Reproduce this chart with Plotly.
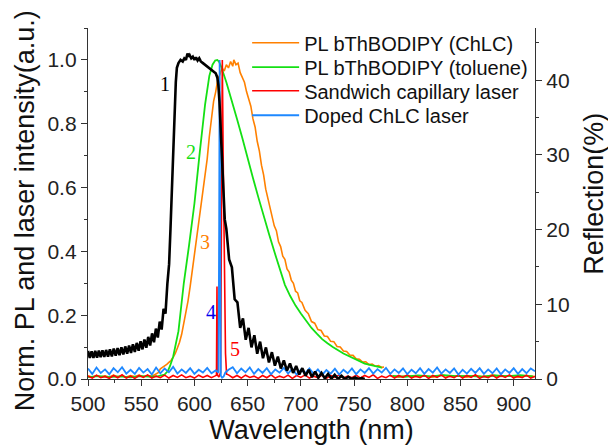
import plotly.graph_objects as go

# ---------------- data ----------------
# Curve 1: reflection spectrum of the ChLC (right axis, %)
refl_wl = [500.0, 501.7, 503.4, 505.1, 506.8, 508.5, 510.2, 511.9, 513.6, 515.3, 517.0, 518.8,
           520.6, 522.4, 524.2, 526.0, 527.8, 529.6, 531.4, 533.2, 535.0, 536.8, 538.6, 540.4,
           542.2, 544.0, 545.8, 547.6, 549.4, 551.2, 553.0, 554.8, 556.6, 558.4, 560.2, 562.0,
           563.8, 565.6, 567.4, 569.2, 571.0, 572.8, 574.6, 576.2, 577.5, 578.5, 579.5, 580.5,
           581.5, 582.5, 583.5, 585.0, 587.0, 589.0, 590.5, 592.0, 593.5, 594.5, 595.5, 597.0,
           598.5, 600.0, 601.5, 603.0, 604.5, 606.0, 608.0, 610.0, 612.0, 614.0, 616.0, 618.0,
           620.0, 621.5, 622.5, 623.5, 624.5, 625.5, 626.5, 627.5, 628.5, 630.0, 632.6, 635.2,
           637.8, 640.4, 643.0, 645.6, 648.2, 650.9, 653.6, 656.3, 659.0, 661.7, 664.4, 667.2,
           670.0, 672.8, 675.6, 678.4, 681.2, 684.0, 686.9, 689.8, 692.7, 695.6, 698.5, 701.4,
           704.4, 707.4, 710.4, 713.4, 716.4, 719.4, 722.5, 725.6, 728.7, 731.8, 735.0, 738.2,
           741.4, 744.6, 747.8, 751.0, 754.0, 757.0, 760.0]
refl_pct = [3.76, 2.82, 3.72, 2.82, 3.76, 2.86, 3.80, 2.91, 3.85, 2.95, 3.89, 2.99,
            3.97, 3.03, 4.06, 3.12, 4.14, 3.20, 4.23, 3.29, 4.36, 3.38, 4.49, 3.50,
            4.66, 3.63, 4.83, 3.80, 5.04, 3.97, 5.30, 4.19, 5.64, 4.49, 6.11, 4.91,
            6.75, 5.55, 7.69, 6.62, 9.40, 8.76, 12.82, 15.38, 20.08, 23.93, 28.20, 32.47,
            36.75, 39.74, 41.66, 42.30, 42.73, 42.52, 42.94, 42.73, 43.58, 43.16, 43.37, 42.94,
            43.16, 42.73, 43.07, 42.64, 42.94, 42.52, 42.30, 42.09, 41.79, 41.66, 41.45, 41.23,
            40.94, 40.38, 39.31, 37.18, 34.18, 29.91, 26.49, 23.50, 21.37, 20.08, 16.02, 14.96,
            10.68, 10.26, 6.84, 8.12, 5.26, 6.84, 4.23, 5.85, 3.38, 5.00, 2.78, 4.23,
            2.22, 3.59, 1.79, 2.99, 1.41, 2.48, 1.11, 2.09, 0.81, 1.75, 0.60, 1.45,
            0.43, 1.24, 0.26, 0.98, 0.17, 0.81, 0.09, 0.68, 0.04, 0.56, 0.00, 0.43,
            0.00, 0.30, 0.00, 0.21, 0.00, 0.13, 0.00]

# Curve 3: PL bThBODIPY in ChLC (normalised)
chlc_wl = [500, 504, 508, 512, 516, 520, 524, 528, 532, 536, 540, 544, 548, 552, 556, 560, 563,
           566, 568, 570, 572, 574, 576, 578, 580, 582, 584, 586, 588, 590, 592, 594, 596, 598,
           600, 602, 604, 606, 608, 610, 612, 614, 616, 618, 620, 622, 624, 626, 628, 630, 632,
           634, 636, 637, 639, 641, 643, 645, 647, 649, 651, 653, 655, 657, 659, 661, 663, 665,
           667, 669, 671, 673, 675, 677, 679, 681, 683, 685, 687, 689, 691, 693, 695, 697, 699,
           701, 704, 707, 710, 713, 716, 719, 722, 725, 728, 731, 734, 737, 740, 743, 746, 749,
           752, 755, 758, 761, 764, 767, 770, 773, 776, 778,
           779, 784, 792, 800, 808, 816, 824, 832, 840, 848, 856, 864, 872, 880, 888, 896, 904, 912, 920]
chlc_val = [0.010, 0.006, 0.011, 0.007, 0.010, 0.006, 0.012, 0.007, 0.010, 0.006, 0.011, 0.008,
            0.012, 0.007, 0.011, 0.009, 0.014, 0.020, 0.032, 0.036, 0.042, 0.046, 0.052, 0.058,
            0.068, 0.080, 0.097, 0.115, 0.140, 0.172, 0.205, 0.245, 0.290, 0.340, 0.385, 0.440,
            0.480, 0.535, 0.575, 0.640, 0.690, 0.760, 0.810, 0.870, 0.900, 0.940, 0.955, 0.975,
            0.965, 0.985, 0.975, 0.995, 0.980, 1.000, 0.985, 0.990, 0.960, 0.945, 0.930, 0.900,
            0.875, 0.855, 0.815, 0.790, 0.745, 0.715, 0.670, 0.640, 0.595, 0.565, 0.535, 0.515,
            0.480, 0.465, 0.430, 0.415, 0.385, 0.375, 0.345, 0.335, 0.310, 0.300, 0.275, 0.270,
            0.245, 0.240, 0.215, 0.205, 0.180, 0.175, 0.155, 0.152, 0.135, 0.133, 0.118, 0.117,
            0.102, 0.100, 0.088, 0.086, 0.075, 0.074, 0.063, 0.062, 0.053, 0.054, 0.045, 0.047,
            0.040, 0.042, 0.036, 0.038,
            None, 0.009, 0.006, 0.011, 0.007, 0.010, 0.006, 0.012, 0.008, 0.010, 0.006, 0.011,
            0.007, 0.012, 0.008, 0.010, 0.006, 0.011, 0.008]

# Curve 2: PL bThBODIPY in toluene (normalised)
tol_wl = [500, 510, 520, 530, 540, 550, 560, 566, 572, 575, 577, 580, 585, 590, 595, 600, 605,
          610, 614, 617, 619.5, 621.5, 623, 625, 630, 635, 640, 645, 650, 655, 660, 665, 670,
          675, 680, 685, 690, 695, 700, 705, 710, 715, 720, 725, 730, 740, 750, 760, 770, 776,
          777, 786, 798, 810, 822, 834, 846, 858, 870, 882, 894, 906, 918]
tol_val = [0.006, 0.009, 0.006, 0.008, 0.005, 0.009, 0.007, 0.009, 0.014, 0.025, 0.040, 0.070,
           0.150, 0.300, 0.420, 0.550, 0.710, 0.860, 0.950, 0.985, 0.998, 1.000, 0.995, 0.980,
           0.930, 0.875, 0.815, 0.755, 0.690, 0.630, 0.570, 0.510, 0.455, 0.400, 0.345, 0.295,
           0.260, 0.230, 0.205, 0.182, 0.160, 0.142, 0.125, 0.112, 0.100, 0.080, 0.063, 0.048,
           0.040, 0.036,
           None, 0.010, 0.007, 0.011, 0.008, 0.012, 0.009, 0.010, 0.007, 0.011, 0.009, 0.012, 0.008]

# Curve 5: sandwich capillary laser
sand_wl = [500, 504, 508, 512, 516, 520, 524, 528, 532, 536, 540, 544, 548, 552, 556, 560, 564,
           568, 572, 576, 580, 584, 588, 592, 596, 600, 604, 608, 612, 616, 619,
           620.7, 621.2, 621.7, 623.0, 624.6, 625.4, 626.2, 627.0, 628.0, 629.2, 630.2,
           632, 636, 640, 644, 648, 652, 656, 660, 664, 668, 672, 676, 680, 684, 688, 692, 696,
           700, 704, 708, 712, 716, 720, 724, 728, 732, 736, 740, 744, 748, 752, 756, 760, 764,
           768, 772, 776, 780, 784, 788, 792, 796, 800, 804, 808, 812, 816, 820, 824, 828, 832,
           836, 840, 844, 848, 852, 856, 860, 864, 868, 872, 876, 880, 884, 888, 892, 896, 900,
           904, 908, 912, 916, 920]
sand_val = [0.009, 0.003, 0.012, 0.004, 0.008, 0.002, 0.011, 0.004, 0.013, 0.003, 0.009, 0.002,
            0.011, 0.005, 0.013, 0.003, 0.009, 0.004, 0.012, 0.003, 0.011, 0.005, 0.013, 0.004,
            0.009, 0.003, 0.012, 0.005, 0.011, 0.004, 0.009,
            0.012, 0.290, 0.012, 0.006, 0.020, 0.500, 1.000, 0.700, 0.350, 0.080, 0.015,
            0.013, 0.004, 0.011, 0.003, 0.012, 0.005, 0.009, 0.002, 0.011, 0.004, 0.013, 0.003,
            0.009, 0.004, 0.012, 0.002, 0.011, 0.005, 0.013, 0.003, 0.009, 0.004, 0.012, 0.002,
            0.011, 0.005, 0.013, 0.003, 0.009, 0.004, 0.012, 0.003, 0.011, 0.005, 0.013, 0.002,
            0.009, 0.004, 0.012, 0.003, 0.011, 0.005, 0.013, 0.003, 0.009, 0.004, 0.012, 0.002,
            0.011, 0.005, 0.013, 0.003, 0.009, 0.004, 0.012, 0.003, 0.011, 0.005, 0.013, 0.002,
            0.009, 0.004, 0.012, 0.003, 0.011, 0.005, 0.013, 0.003, 0.009, 0.004, 0.012, 0.003,
            0.008]

# Curve 4: doped ChLC laser
doped_wl = [500, 504, 508, 512, 516, 520, 524, 528, 532, 536, 540, 544, 548, 552, 556, 560, 564,
            568, 572, 576, 580, 584, 588, 592, 596, 600, 604, 608, 612, 616, 620,
            622.6, 623.2, 623.7, 624.2, 624.8, 626.0, 627.5, 629.0,
            632, 636, 640, 644, 648, 652, 656, 660, 664, 668, 672, 676, 680, 684, 688, 692, 696,
            700, 704, 708, 712, 716, 720, 724, 728, 732, 736, 740, 744, 748, 752, 756, 760, 764,
            768, 772, 776, 780, 784, 788, 792, 796, 800, 804, 808, 812, 816, 820, 824, 828, 832,
            836, 840, 844, 848, 852, 856, 860, 864, 868, 872, 876, 880, 884, 888, 892, 896, 900,
            904, 908, 912, 916, 920]
doped_val = [0.033, 0.016, 0.036, 0.019, 0.030, 0.015, 0.034, 0.021, 0.037, 0.017, 0.029, 0.016,
             0.035, 0.020, 0.031, 0.014, 0.036, 0.018, 0.033, 0.021, 0.038, 0.017, 0.030, 0.019,
             0.034, 0.016, 0.029, 0.020, 0.035, 0.018, 0.027,
             0.020, 0.450, 1.000, 0.450, 0.010, 0.004, 0.008, 0.020,
             0.029, 0.037, 0.018, 0.033, 0.021, 0.036, 0.016, 0.031, 0.019, 0.034, 0.015, 0.030,
             0.020, 0.035, 0.017, 0.032, 0.014, 0.029, 0.018, 0.033, 0.016, 0.030, 0.013, 0.028,
             0.017, 0.032, 0.014, 0.029, 0.018, 0.033, 0.015, 0.030, 0.019, 0.034, 0.017, 0.031,
             0.020, 0.035, 0.016, 0.030, 0.019, 0.033, 0.015, 0.029, 0.018, 0.034, 0.016, 0.031,
             0.020, 0.036, 0.017, 0.030, 0.019, 0.033, 0.014, 0.029, 0.017, 0.032, 0.019, 0.034,
             0.016, 0.030, 0.018, 0.033, 0.015, 0.030, 0.019, 0.034, 0.016, 0.031, 0.018, 0.033,
             0.024]

legend_names = ["PL bThBODIPY (ChLC)", "PL bThBODIPY (toluene)",
                "Sandwich capillary laser", "Doped ChLC laser"]
curve_labels = ["1", "2", "3", "4", "5"]
axis_titles = ["Wavelength (nm)", "Norm. PL and laser intensity(a.u.)", "Reflection(%)"]

x_ticks = [500, 550, 600, 650, 700, 750, 800, 850, 900]
y_ticks = [0.0, 0.2, 0.4, 0.6, 0.8, 1.0]
y2_ticks = [0, 10, 20, 30, 40]

# ---------------- figure ----------------
SANS = "Liberation Sans, Arial, sans-serif"
SERIF = "Liberation Serif, Times New Roman, serif"
AX = "#333333"
W, H = 608, 446
ML, MR, MT, MB = 88, 73, 28, 60
pw, ph = W - ML - MR, H - MT - MB

fig = go.Figure()
fig.add_trace(go.Scatter(x=chlc_wl, y=chlc_val, mode="lines", name=legend_names[0],
                         legend="legend", line=dict(color="#FF8000", width=1.6)))
fig.add_trace(go.Scatter(x=tol_wl, y=tol_val, mode="lines", name=legend_names[1],
                         legend="legend2", line=dict(color="#14E014", width=1.8)))
fig.add_trace(go.Scatter(x=sand_wl, y=sand_val, mode="lines", name=legend_names[2],
                         legend="legend3", line=dict(color="#FF0000", width=1.6)))
fig.add_trace(go.Scatter(x=doped_wl, y=doped_val, mode="lines", name=legend_names[3],
                         legend="legend4", line=dict(color="#1E88FF", width=1.8)))
fig.add_trace(go.Scatter(x=refl_wl, y=refl_pct, mode="lines", yaxis="y2", showlegend=False,
                         line=dict(color="#000000", width=2.6)))

tick_font = dict(family=SANS, size=21, color="#222222")
title_font = dict(family=SANS, size=27, color="#111111")


def legend_row(row_px):
    return dict(x=0.356, y=(H - MB - row_px) / ph, xanchor="left", yanchor="middle",
                bgcolor="rgba(0,0,0,0)", borderwidth=0, itemwidth=47,
                font=dict(family=SANS, size=20, color="#111111"))


fig.update_layout(
    width=W, height=H,
    margin=dict(l=ML, r=MR, t=MT, b=MB),
    paper_bgcolor="white", plot_bgcolor="white",
    xaxis=dict(range=[500, 920], tickvals=x_ticks, ticks="outside", ticklen=6, tickwidth=1.2,
               tickcolor=AX, showline=True, linecolor=AX, linewidth=1.3, showgrid=False,
               zeroline=False, tickfont=tick_font,
               minor=dict(dtick=25, tick0=500, ticks="outside", ticklen=3, tickcolor=AX),
               title=dict(text=axis_titles[0], font=title_font, standoff=0)),
    xaxis2=dict(range=[500, 920], overlaying="x", side="top", anchor="y", tickvals=x_ticks,
                ticks="inside", ticklen=6, tickwidth=1.2, tickcolor=AX, showticklabels=False,
                showline=True, linecolor=AX, linewidth=1.3, showgrid=False, zeroline=False,
                minor=dict(dtick=25, tick0=500, ticks="inside", ticklen=3, tickcolor=AX)),
    yaxis=dict(range=[0, 1.1], tickvals=y_ticks, tickformat=".1f", ticks="outside", ticklen=6,
               tickwidth=1.2, tickcolor=AX, showline=True, linecolor=AX, linewidth=1.3,
               showgrid=False, zeroline=False, tickfont=tick_font,
               minor=dict(dtick=0.1, tick0=0, ticks="outside", ticklen=3, tickcolor=AX)),
    yaxis2=dict(range=[0, 47], overlaying="y", side="right", anchor="x", tickvals=y2_ticks,
                ticks="outside", ticklen=6, tickwidth=1.2, tickcolor=AX, showline=True,
                linecolor=AX, linewidth=1.3, showgrid=False, zeroline=False, tickfont=tick_font,
                minor=dict(dtick=5, tick0=0, ticks="outside", ticklen=3, tickcolor=AX)),
    legend=legend_row(43),
    legend2=legend_row(68),
    legend3=legend_row(92),
    legend4=legend_row(117),
)

# vertical axis titles placed as rotated annotations (pixel -> paper)
fig.add_annotation(xref="paper", yref="paper", x=(25 - ML) / pw, y=(H - MB - 215) / ph,
                   text=axis_titles[1], textangle=-90, showarrow=False,
                   xanchor="center", yanchor="middle", font=title_font)
fig.add_annotation(xref="paper", yref="paper", x=(594 - ML) / pw, y=(H - MB - 197) / ph,
                   text=axis_titles[2], textangle=-90, showarrow=False,
                   xanchor="center", yanchor="middle", font=title_font)

label_specs = [
    (curve_labels[0], 572, 0.925, "#000000"),
    (curve_labels[1], 597, 0.71, "#14E014"),
    (curve_labels[2], 610, 0.43, "#FF8000"),
    (curve_labels[3], 616, 0.21, "#0000EE"),
    (curve_labels[4], 638, 0.094, "#FF0000"),
]
for txt, lx, ly, col in label_specs:
    fig.add_annotation(x=lx, y=ly, xref="x", yref="y", text=txt, showarrow=False,
                       font=dict(family=SERIF, size=20, color=col))

fig.write_html("out.html", config={"displayModeBar": False},
               post_script="document.body.style.margin='0';document.body.style.overflow='hidden';")
